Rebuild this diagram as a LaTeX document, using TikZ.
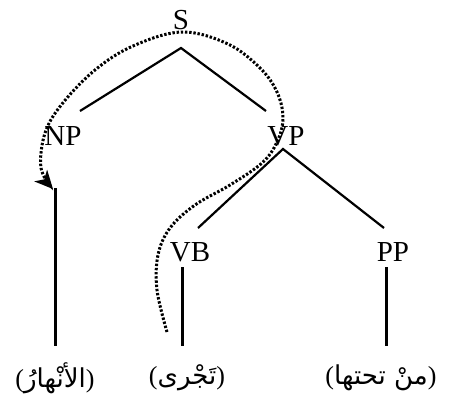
\documentclass[tikz,border=0pt]{standalone}
\usepackage{fontspec}
\setmainfont{Liberation Serif}
\newfontfamily\arabicfont[Script=Arabic]{DejaVu Sans}
\TeXXeTstate=1
\usetikzlibrary{arrows.meta}

\tikzset{
	cat/.style={font=\fontsize{29}{32}\selectfont, inner sep=1pt},
	word/.style={font=\fontsize{26}{30}\selectfont, inner sep=1pt},
	branch/.style={line width=2.2pt},
	stem/.style={line width=3pt},
	move/.style={line width=3pt, dash pattern=on 2.4pt off 1.8pt,
		-{Stealth[length=18pt, width=17pt, inset=5pt]}},
}

\begin{document}
\begin{tikzpicture}[x=1pt, y=-1pt]
	\useasboundingbox (0, 0) rectangle (450, 407);

	% categories
	\node[cat] (S) at (181, 20) {S};
	\node[cat] (NP) at (63, 136) {NP};
	\node[cat] (VP) at (286, 136) {VP};
	\node[cat] (VB) at (190, 252) {VB};
	\node[cat] (PP) at (393, 252) {PP};

	% words
	\node[word] (w1) at (55, 378) {(\hbox{\beginR\arabicfont الأنْهارُ\endR})};
	\node[word] (w2) at (187, 378) {(\hbox{\beginR\arabicfont تَجْرى\endR})};
	\node[word] (w3) at (381, 378) {(\hbox{\beginR\arabicfont منْ تحتها\endR})};

	% branch ends
	\coordinate (S-b) at (181, 48);
	\coordinate (NP-t) at (80, 111);
	\coordinate (VP-t) at (266, 111);
	\coordinate (VP-b) at (283, 149);
	\coordinate (VB-t) at (198, 228);
	\coordinate (PP-t) at (384, 228);
	\coordinate (NP-s) at (55, 188);
	\coordinate (VB-s) at (182, 267);
	\coordinate (PP-s) at (386, 267);
	\coordinate (w1-t) at (55, 346);
	\coordinate (w2-t) at (182, 346);
	\coordinate (w3-t) at (386, 346);

	% branches
	\draw[branch] (NP-t) -- (S-b) -- (VP-t);
	\draw[branch] (VB-t) -- (VP-b) -- (PP-t);
	\draw[stem] (NP-s) -- (w1-t);
	\draw[stem] (VB-s) -- (w2-t);
	\draw[stem] (PP-s) -- (w3-t);

	% movement
	\draw[move] plot[smooth, tension=0.6] coordinates {
		(167, 332) (157, 290) (158, 255) (170, 228) (195, 205) (230, 185)
		(262, 163) (277, 142) (283, 118) (277, 92) (260, 68) (228, 44)
		(182, 32) (133, 46) (95, 70) (62, 104) (45, 133) (41, 168) (53, 189)};
\end{tikzpicture}
\end{document}
